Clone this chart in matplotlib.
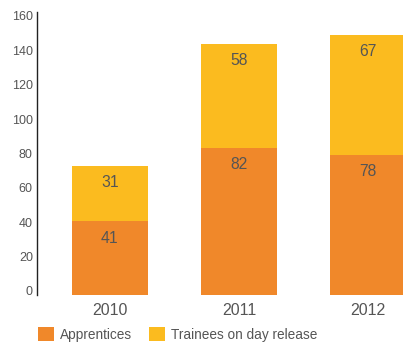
import matplotlib
matplotlib.use("Agg")
import matplotlib.pyplot as plt
from matplotlib.patches import Patch

years = ["2010", "2011", "2012"]
apprentices = [41, 82, 78]
trainees = [31, 58, 67]
series_names = ["Apprentices", "Trainees on day release"]
y_ticks = [0, 20, 40, 60, 80, 100, 120, 140, 160]

ORANGE = "#F0882A"
YELLOW = "#FBBB1F"
TEXT = "#555555"

plt.rcParams["font.family"] = ["Liberation Sans", "DejaVu Sans"]

fig = plt.figure(figsize=(4.03, 3.42), dpi=100)
rect = [37 / 403, 47 / 342, 366 / 403, 283.3 / 342]

# axis that carries the left spine and tick labels
ax = fig.add_axes(rect)
ax.set_ylim(-2.33, 162.4)
ax.set_yticks(y_ticks)
ax.tick_params(axis="y", length=0, pad=3, labelsize=9, labelcolor=TEXT)
ax.set_xticks([])
for side in ("top", "right", "bottom"):
    ax.spines[side].set_visible(False)
ax.spines["left"].set_color("#222222")
ax.spines["left"].set_linewidth(1.0)
ax.patch.set_visible(False)

# axis holding the stacked bars
bx = fig.add_axes(rect, sharex=None)
bx.patch.set_visible(False)
for s in bx.spines.values():
    s.set_visible(False)
bx.set_yticks([])
x = list(range(len(years)))
bx.set_xlim(-0.562, 2.268)
bx.set_ylim(0, 157.8)
width = 0.588
bx.bar(x, apprentices, width, color=ORANGE)
bx.bar(x, trainees, width, bottom=apprentices, color=YELLOW)
bx.set_xticks(x)
bx.set_xticklabels(years)
bx.tick_params(axis="x", length=0, pad=5.5, labelsize=11.5, labelcolor=TEXT)

for xi, a, t in zip(x, apprentices, trainees):
    for top, val in ((a, a), (a + t, t)):
        bx.annotate(str(val), (xi, top), xytext=(0, -12.2), textcoords="offset points",
                    ha="center", va="center", fontsize=11.3, color=TEXT)

handles = [Patch(facecolor=ORANGE), Patch(facecolor=YELLOW)]
fig.legend(handles, series_names, loc="center left", bbox_to_anchor=(38 / 403, 1 - 334.5 / 342),
           ncol=2, frameon=False, fontsize=9.8, borderpad=0, borderaxespad=0,
           handlelength=1.15, handleheight=1.15, handletextpad=0.5, columnspacing=1.2,
           labelcolor=TEXT)

fig.savefig("out.png", dpi=100)
